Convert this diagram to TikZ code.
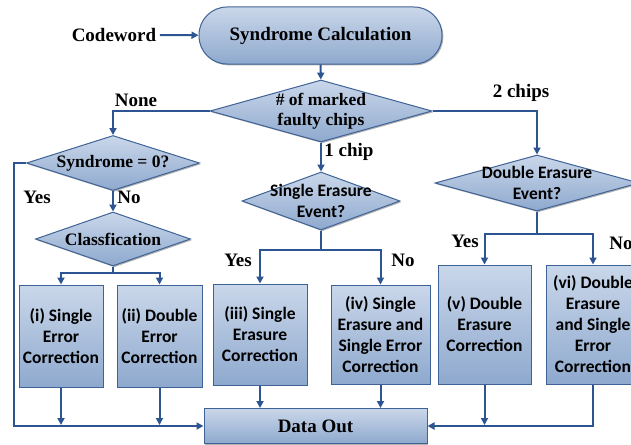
\documentclass[tikz,border=0pt]{standalone}
\usepackage{fontspec}
\setmainfont{Liberation Serif}
\newfontfamily\calibfont{Carlito}
\usetikzlibrary{shapes.geometric,shadows,arrows.meta}

\definecolor{edge}{HTML}{3F6396}
\definecolor{wire}{HTML}{2C5592}
\definecolor{lite}{HTML}{CAD7EA}
\definecolor{deep}{HTML}{8EA9CE}

\tikzset{
  shaded/.style={draw=edge, line width=1pt, top color=lite, bottom color=deep,
    drop shadow={shadow xshift=1.3pt, shadow yshift=-1.3pt, opacity=0.3, fill=black}},
  procbox/.style={shaded, rectangle, inner sep=0pt, align=center,
    font=\calibfont\bfseries\fontsize{17.5}{21}\selectfont},
  decide/.style={shaded, diamond, inner sep=0pt},
  serifbig/.style={font=\bfseries\fontsize{19}{21}\selectfont},
  seriftext/.style={align=center, font=\bfseries\fontsize{17.5}{20}\selectfont},
  sanstext/.style={align=center, font=\calibfont\bfseries\fontsize{17.5}{21}\selectfont},
  arr/.style={draw=wire, line width=2pt, -{Triangle[length=7pt,width=7pt]}},
  wireline/.style={draw=wire, line width=2pt},
}

\begin{document}
\begin{tikzpicture}[x=1pt, y=-1pt]
  \path[use as bounding box] (0,0) rectangle (631,444);
  \fill[white] (0,0) rectangle (631,444);
  \clip (0,0) rectangle (631,444);

  % start and syndrome stage
  \node[serifbig] (cw) at (114,35) {Codeword};
  \node[shaded, rectangle, rounded corners=28pt, minimum width=243pt, minimum height=57pt,
        serifbig] (sc) at (320.5,35.5) {Syndrome Calculation};

  % decisions
  \node[decide, minimum width=222pt, minimum height=62pt] (md) at (321,111) {};
  \node[seriftext] at (md) {\# of marked\\faulty chips};

  \node[decide, minimum width=173pt, minimum height=55pt] (sz) at (113,163) {};
  \node[seriftext] at (sz) {Syndrome = 0?};

  \node[decide, minimum width=155pt, minimum height=54pt] (cls) at (113,239) {};
  \node[seriftext] at (cls) {Classfication};

  \node[decide, minimum width=158pt, minimum height=58pt] (sei) at (321,201) {};
  \node[sanstext] at (sei) {Single Erasure\\Event?};

  \node[decide, minimum width=204pt, minimum height=56pt] (dee) at (537,183) {};
  \node[sanstext] at (dee) {Double Erasure\\Event?};

  % correction boxes
  \node[procbox, minimum width=84pt, minimum height=102pt] (b1) at (61,336)
    {(i) Single\\Error\\Correction};
  \node[procbox, minimum width=85pt, minimum height=102pt] (b2) at (159.5,336)
    {(ii) Double\\Error\\Correction};
  \node[procbox, minimum width=94pt, minimum height=101pt] (b3) at (260,334.5)
    {(iii) Single\\Erasure\\Correction};
  \node[procbox, minimum width=99pt, minimum height=99pt] (b4) at (380.5,334.5)
    {(iv) Single\\Erasure and\\Single Error\\Correction};
  \node[procbox, minimum width=93pt, minimum height=119pt] (b5) at (484.5,324.5)
    {(v) Double\\Erasure\\Correction};
  \node[procbox, minimum width=94pt, minimum height=119pt] (b6) at (593,324.5)
    {(vi) Double\\Erasure\\and Single\\Error\\Correction};

  % output
  \node[shaded, rectangle, minimum width=223pt, minimum height=35pt, serifbig]
    (out) at (315.5,426) {Data Out};

  % merge points on the bottom bus
  \coordinate (m1) at (61,425);
  \coordinate (m2) at (159.5,425);
  \coordinate (m5) at (484.5,425);
  \coordinate (lbus) at (14,426);
  \coordinate (rbus) at (593,426);

  % connectors
  \draw[arr] (cw) -- (sc);
  \draw[arr] (sc) -- (md);
  \draw[arr] (md.west) -| (sz.north);
  \draw[arr] (md.east) -| (dee.north);
  \draw[arr] (md.south) -- (sei.north);
  \draw[arr] (sz.south) -- (cls.north);

  \draw[arr] (sz.west) -| (lbus) -- (out.west);
  \draw[arr] (cls.south) -- ++(0,6) -| (b1.north);
  \draw[arr] (cls.south) -- ++(0,6) -| (b2.north);
  \draw[arr] (sei.south) -- ++(0,19) -| (b3.north);
  \draw[arr] (sei.south) -- ++(0,19) -| (b4.north);
  \draw[arr] (dee.south) -- ++(0,22) -| (b5.north);
  \draw[arr] (dee.south) -- ++(0,22) -| (b6.north);

  \draw[arr] (b1.south) -- (m1);
  \draw[arr] (b2.south) -- (m2);
  \draw[arr] (b3.south) -- (b3.south |- out.north);
  \draw[arr] (b4.south) -- (b4.south |- out.north);
  \draw[arr] (b5.south) -- (m5);
  \draw[arr] (b6.south) -- (rbus) -- (out.east);

  % branch labels
  \node[serifbig] at (136,100) {None};
  \node[serifbig] at (521,93) {2 chips};
  \node[serifbig] at (349,152) {1 chip};
  \node[serifbig] at (37,197) {Yes};
  \node[serifbig] at (129,197) {No};
  \node[serifbig] at (238,260) {Yes};
  \node[serifbig] at (403,260) {No};
  \node[serifbig] at (465,241) {Yes};
  \node[serifbig] at (621,243) {No};
\end{tikzpicture}
\end{document}
